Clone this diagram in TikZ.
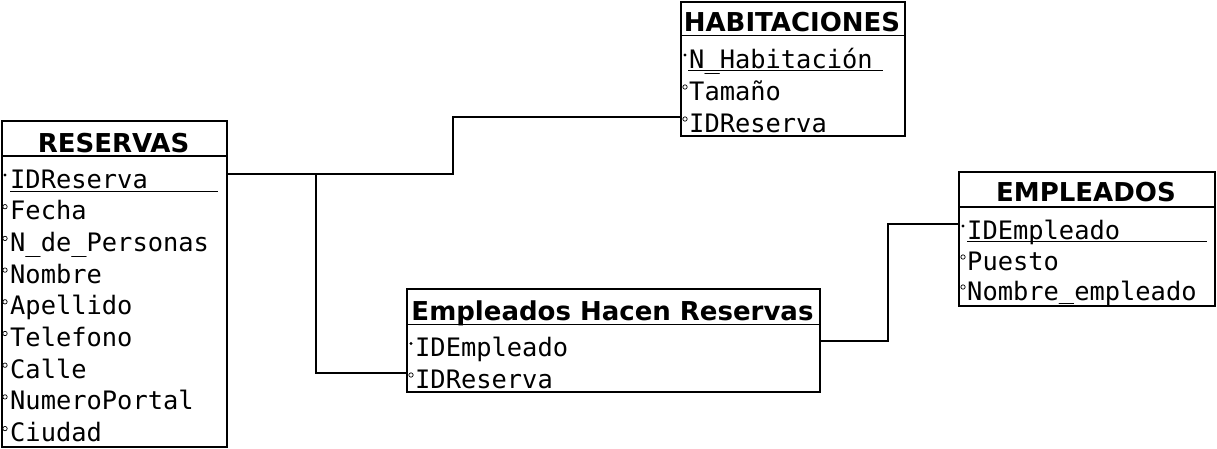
\documentclass[tikz,border=0pt]{standalone}
\usepackage{fontspec}
\setmainfont{DejaVu Sans}
\newfontfamily\monofont{DejaVu Sans Mono}

\begin{document}
\begin{tikzpicture}[x=1pt, y=-1pt, tabla/.style={draw, line width=1.8pt, anchor=north west, inner sep=0pt}, titulo/.style={anchor=base, inner sep=0pt, font=\fontsize{26}{30}\selectfont\bfseries}, campo/.style={anchor=base west, inner sep=0pt, font=\fontsize{25.4}{30}\selectfont\monofont}, linea/.style={line width=1.8pt}, subrayado/.style={line width=1.1pt}, clave/.style={fill=black}, atributo/.style={draw=black, line width=0.7pt, fill=white}]
			\useasboundingbox (0,0) rectangle (1217,448);
			% RESERVAS
			\node[tabla, minimum width=225pt, minimum height=326pt] (reservas) at (1,120) {};
			\node[titulo] (reservasT) at (113.5,152) {RESERVAS};
			\draw[linea] (1,156) -- (226,156);
			\node[campo] (r1) at (10,188) {IDReserva};
			\node[campo] (r2) at (10,219.7) {Fecha};
			\node[campo] (r3) at (10,251.4) {N\_de\_Personas};
			\node[campo] (r4) at (10,283.1) {Nombre};
			\node[campo] (r5) at (10,314.8) {Apellido};
			\node[campo] (r6) at (10,346.5) {Telefono};
			\node[campo] (r7) at (10,378.2) {Calle};
			\node[campo] (r8) at (10,409.9) {NumeroPortal};
			\node[campo] (r9) at (10,441.6) {Ciudad};
			\draw[subrayado] (10,191.5) -- (218,191.5);
			\fill[clave] (5,175) circle (1.7pt);
			\foreach \y in {219.7,251.4,283.1,314.8,346.5,378.2,409.9,441.6}
				\draw[atributo] (5,\y-13) circle (2.2pt);
			% HABITACIONES
			\node[tabla, minimum width=224pt, minimum height=134pt] (habitaciones) at (680,1) {};
			\node[titulo] (habitacionesT) at (792,31) {HABITACIONES};
			\draw[linea] (680,35.5) -- (904,35.5);
			\node[campo] (h1) at (689,68) {N\_Habitación};
			\node[campo] (h2) at (689,100) {Tamaño};
			\node[campo] (h3) at (689,132) {IDReserva};
			\draw[subrayado] (688,70.5) -- (883,70.5);
			\fill[clave] (685,55) circle (1.7pt);
			\draw[atributo] (685,87) circle (2.2pt);
			\draw[atributo] (685,119) circle (2.2pt);
			% Empleados Hacen Reservas
			\node[tabla, minimum width=413pt, minimum height=103pt] (ehr) at (406,288) {};
			\node[titulo] (ehrT) at (612.5,320) {Empleados Hacen Reservas};
			\draw[linea] (406,324.5) -- (819,324.5);
			\node[campo] (e1) at (415,356.7) {IDEmpleado};
			\node[campo] (e2) at (415,388.3) {IDReserva};
			\fill[clave] (411,343.5) circle (1.7pt);
			\draw[atributo] (411,375) circle (2.2pt);
			% EMPLEADOS
			\node[tabla, minimum width=256pt, minimum height=134pt] (empleados) at (958,171) {};
			\node[titulo] (empleadosT) at (1086,201.5) {EMPLEADOS};
			\draw[linea] (958,207) -- (1214,207);
			\node[campo] (p1) at (967,239) {IDEmpleado};
			\node[campo] (p2) at (967,270) {Puesto};
			\node[campo] (p3) at (967,300) {Nombre\raisebox{2pt}{\_}empleado};
			\draw[subrayado] (967,241.5) -- (1207,241.5);
			\fill[clave] (963,226) circle (1.7pt);
			\draw[atributo] (963,257) circle (2.2pt);
			\draw[atributo] (963,287) circle (2.2pt);
			% relaciones
			\draw[linea] (reservas.east |- 0,174) -| (453,117) -- (habitaciones.west |- 0,117);
			\draw[linea] (reservas.east |- 0,174) -| (316,373) -- (ehr.west |- 0,373);
			\draw[linea] (ehr.east |- 0,341) -| (888,224) -- (empleados.west |- 0,224);
\end{tikzpicture}
\end{document}
